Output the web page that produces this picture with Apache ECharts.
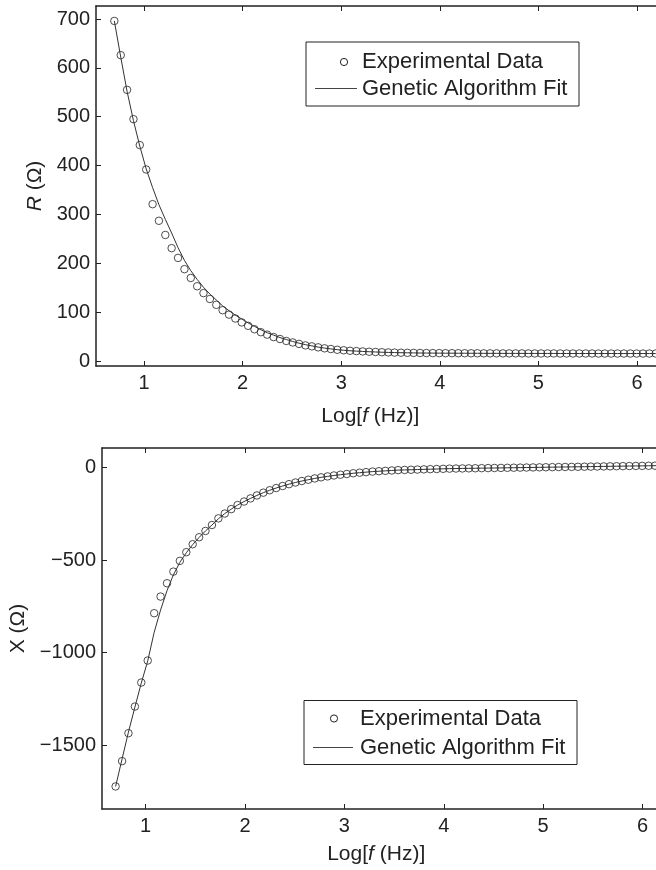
<!DOCTYPE html>
<html><head><meta charset="utf-8">
<script src="https://cdn.jsdelivr.net/npm/echarts@6/dist/echarts.min.js"></script>
<style>html,body{margin:0;padding:0;background:#fff}#c{width:656px;height:870px}</style>
</head><body><div id="c"></div><script>
// log10 of frequency (Hz) for each measurement
const logF = [0.699,0.764,0.828,0.893,0.957,1.022,1.087,1.151,1.216,1.280,
  1.345,1.410,1.474,1.539,1.603,1.668,1.733,1.797,1.862,1.926,
  1.991,2.056,2.120,2.185,2.249,2.314,2.379,2.443,2.508,2.572,
  2.637,2.702,2.766,2.831,2.895,2.960,3.025,3.089,3.154,3.218,
  3.283,3.348,3.412,3.477,3.541,3.606,3.671,3.735,3.800,3.864,
  3.929,3.994,4.058,4.123,4.187,4.252,4.317,4.381,4.446,4.510,
  4.575,4.640,4.704,4.769,4.833,4.898,4.963,5.027,5.092,5.156,
  5.221,5.286,5.350,5.415,5.479,5.544,5.609,5.673,5.738,5.802,
  5.867,5.932,5.996,6.061,6.125,6.190];
// R (Ohm) experimental
const rExp = [696,626,555,495,442,392,321,287,258,231,
  211,188,170,153,139,127,115,104,95,87,
  79,72,65,59,54,49,45,41,38,35,
  32,30,28,26,24.5,23,22,21,20.3,19.6,
  19,18.5,18,17.6,17.3,17,16.8,16.6,16.4,16.3,
  16.2,16.1,16,16,15.9,15.9,15.8,15.8,15.7,15.7,
  15.7,15.6,15.6,15.6,15.6,15.5,15.5,15.5,15.5,15.5,
  15.4,15.4,15.4,15.4,15.4,15.4,15.3,15.3,15.3,15.3,
  15.3,15.3,15.3,15.3,15.3,15.3];
// R (Ohm) genetic algorithm fit
const rFit = [696,622,552,492,440,393,355,320,290,262,
  232,206,185,167,151,137,125,113,103,94,
  86,78,71,64,58,53,48,44,40,36.5,
  33.5,31,28.5,26.5,24.8,23.2,22,21,20.3,19.6,
  19,18.5,18,17.6,17.3,17,16.8,16.6,16.4,16.3,
  16.2,16.1,16,16,15.9,15.9,15.8,15.8,15.7,15.7,
  15.7,15.6,15.6,15.6,15.6,15.5,15.5,15.5,15.5,15.5,
  15.4,15.4,15.4,15.4,15.4,15.4,15.3,15.3,15.3,15.3,
  15.3,15.3,15.3,15.3,15.3,15.3];
// X (Ohm) experimental
const xExp = [-1724,-1587,-1436,-1292,-1162,-1043,-787,-697,-625,-562,
  -504,-457,-414,-376,-342,-310,-274,-248,-224,-202,
  -183,-166,-150,-135,-122,-110,-99,-89,-80,-72,
  -65,-58,-52,-47,-42,-38,-34,-30,-27,-24,
  -21,-19,-17,-15,-13,-12,-11,-10,-9,-8,
  -7,-6,-5,-4.5,-4,-3.5,-3,-2.5,-2,-1.5,
  -1,-0.5,0,0.5,1,1.5,2,2.5,3,3.5,
  4,4.5,5,5.5,6,6.5,7,7.5,8,8.5,
  9,9.5,10,10.5,11,11.5];
// X (Ohm) genetic algorithm fit
const xFit = [-1724,-1575,-1430,-1295,-1165,-1045,-890,-770,-665,-580,
  -512,-460,-416,-377,-342,-310,-276,-248,-224,-202,
  -183,-166,-150,-135,-122,-110,-99,-89,-80,-72,
  -65,-58,-52,-47,-42,-38,-34,-30,-27,-24,
  -21,-19,-17,-15,-13,-12,-11,-10,-9,-8,
  -7,-6,-5,-4.5,-4,-3.5,-3,-2.5,-2,-1.5,
  -1,-0.5,0,0.5,1,1.5,2,2.5,3,3.5,
  4,4.5,5,5.5,6,6.5,7,7.5,8,8.5,
  9,9.5,10,10.5,11,11.5];
const xTicks = [1,2,3,4,5,6];
const rTicks = [0,100,200,300,400,500,600,700];
const imTicks = [-1500,-1000,-500,0];
const legendNames = ['Experimental Data','Genetic Algorithm Fit'];

const FONT = '"Liberation Sans", Arial, Helvetica, sans-serif';
const INK = '#222';
const fmt = v => v < 0 ? '\u2212' + Math.abs(v) : String(v);

function xAx(grid, pos, min, max, showLabels) {
  return {
    type: 'value', gridIndex: grid, position: pos, min: min, max: max,
    axisLine: { show: true, onZero: false, lineStyle: { color: INK, width: 1.5 } },
    axisTick: { show: true, inside: true, length: 5, customValues: xTicks, lineStyle: { color: INK, width: 1 } },
    axisLabel: { show: showLabels, customValues: xTicks, margin: 7, color: INK, fontSize: 20, fontFamily: FONT, formatter: fmt },
    splitLine: { show: false },
    name: showLabels ? '{n|Log[}{i|f}{n| (Hz)]}' : '',
    nameLocation: 'middle', nameGap: showLabels ? (grid === 0 ? 40 : 35) : 0,
    nameTextStyle: { padding: [0, 22, 0, 0], rich: {
      n: { fontSize: 21, fontFamily: FONT, color: INK },
      i: { fontSize: 21, fontFamily: FONT, color: INK, fontStyle: 'italic' } } }
  };
}
function yAx(grid, pos, min, max, ticks, showLabels, nm, gap) {
  return {
    type: 'value', gridIndex: grid, position: pos, min: min, max: max,
    axisLine: { show: true, onZero: false, lineStyle: { color: INK, width: 1.5 } },
    axisTick: { show: true, inside: true, length: 5, customValues: ticks, lineStyle: { color: INK, width: 1 } },
    axisLabel: { show: showLabels, customValues: ticks, margin: 6, color: INK, fontSize: 20, fontFamily: FONT, formatter: fmt },
    splitLine: { show: false },
    name: showLabels ? nm : '', nameLocation: 'middle', nameGap: gap,
    nameTextStyle: { rich: {
      n: { fontSize: 21, fontFamily: FONT, color: INK },
      i: { fontSize: 21, fontFamily: FONT, color: INK, fontStyle: 'italic' } } }
  };
}
const pairs = (xs, ys) => xs.map((x, i) => [x, ys[i]]);

function legendGraphic(bx, by, cx, cy, lx1, lx2, ly, tx, ty1, ty2) {
  return [
    { type: 'rect', z: 100, shape: { x: bx, y: by, width: 273, height: 64 },
      style: { fill: '#fff', stroke: INK, lineWidth: 1 } },
    { type: 'circle', z: 101, shape: { cx: cx, cy: cy, r: 3.6 },
      style: { fill: 'none', stroke: INK, lineWidth: 1 } },
    { type: 'line', z: 101, shape: { x1: lx1, y1: ly, x2: lx2, y2: ly },
      style: { stroke: '#444', lineWidth: 1 } },
    { type: 'text', z: 101, x: tx, y: ty1,
      style: { text: legendNames[0], font: '22px ' + FONT, fill: INK, verticalAlign: 'middle' } },
    { type: 'text', z: 101, x: tx, y: ty2,
      style: { text: legendNames[1], font: '22px ' + FONT, fill: INK, verticalAlign: 'middle' } }
  ];
}

const chart = echarts.init(document.getElementById('c'), null, { renderer: 'canvas' });
chart.setOption({
  backgroundColor: '#fff',
  animation: false,
  grid: [
    { left: 96, top: 6, width: 570.6, height: 360, outerBoundsMode: 'none', containLabel: false },
    { left: 102, top: 448, width: 570.4, height: 361, outerBoundsMode: 'none', containLabel: false }
  ],
  xAxis: [
    xAx(0, 'bottom', 0.513, 6.3, true),
    xAx(0, 'top', 0.513, 6.3, false),
    xAx(1, 'bottom', 0.562, 6.3, true),
    xAx(1, 'top', 0.562, 6.3, false)
  ],
  yAxis: [
    yAx(0, 'left', -10.2, 726.6, rTicks, true, '{i|R}{n| (\u03A9)}', 50),
    yAx(0, 'right', -10.2, 726.6, rTicks, false, '', 0),
    yAx(1, 'left', -1846, 106.6, imTicks, true, '{n|X (\u03A9)}', 68),
    yAx(1, 'right', -1846, 106.6, imTicks, false, '', 0)
  ],
  series: [
    { name: legendNames[0], type: 'scatter', xAxisIndex: 0, yAxisIndex: 0, data: pairs(logF, rExp),
      symbol: 'circle', symbolSize: 7.5, itemStyle: { color: 'rgba(0,0,0,0)', borderColor: INK, borderWidth: 1 }, z: 2 },
    { name: legendNames[1], type: 'line', xAxisIndex: 0, yAxisIndex: 0, data: pairs(logF, rFit),
      symbol: 'none', lineStyle: { color: '#333', width: 1 }, z: 3 },
    { name: legendNames[0], type: 'scatter', xAxisIndex: 2, yAxisIndex: 2, data: pairs(logF, xExp),
      symbol: 'circle', symbolSize: 7.5, itemStyle: { color: 'rgba(0,0,0,0)', borderColor: INK, borderWidth: 1 }, z: 2 },
    { name: legendNames[1], type: 'line', xAxisIndex: 2, yAxisIndex: 2, data: pairs(logF, xFit),
      symbol: 'none', lineStyle: { color: '#333', width: 1 }, z: 3 }
  ],
  graphic: [].concat(
    legendGraphic(306, 42, 344, 62, 315, 357, 88.5, 362, 62, 89),
    legendGraphic(304, 700.5, 334, 718.5, 313, 353, 747.5, 360, 719, 748)
  )
});
</script></body></html>
